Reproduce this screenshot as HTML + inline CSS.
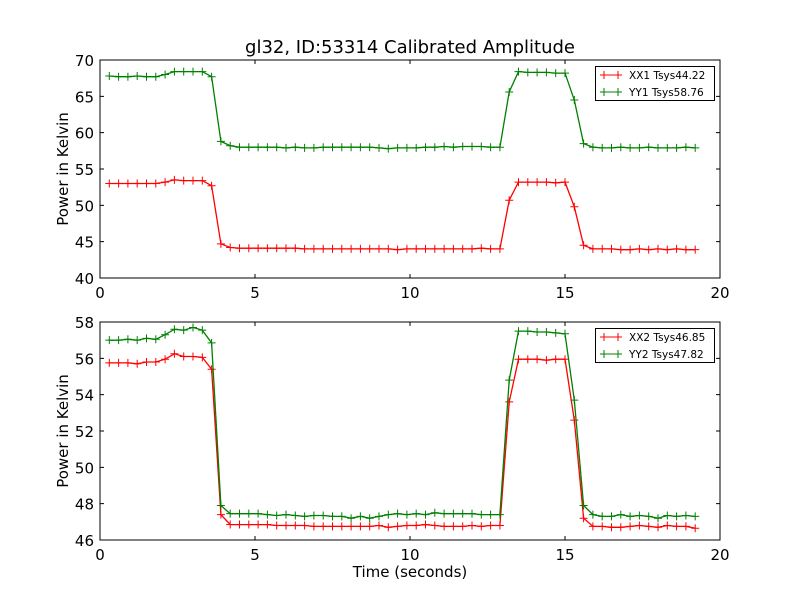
<!DOCTYPE html>
<html><head><meta charset="utf-8"><style>
body{margin:0;background:#fff;}
svg{display:block;font-family:"DejaVu Sans","Liberation Sans",sans-serif;}
</style></head><body>
<svg id="chart" width="800" height="600"></svg>
<script>
const times = Array.from({length:64},(_,i)=>+(0.3*(i+1)).toFixed(1));
const xx1 = [53,53,53,53,53,53,53.2,53.5,53.4,53.4,53.4,52.7,44.7,44.2,44.1,44.1,44.1,44.1,44.1,44.1,44.1,44.0,44.0,44.0,44.0,44.0,44.0,44.0,44.0,44.0,44.0,43.9,44.0,44.0,44.0,44.0,44.0,44.0,44.0,44.0,44.1,44.0,44.0,50.7,53.2,53.2,53.2,53.2,53.1,53.2,49.8,44.5,44.0,44.0,44.0,43.9,43.9,44.0,43.9,44.0,43.9,44.0,43.9,43.9];
const yy1 = [67.8,67.7,67.7,67.8,67.7,67.7,68.0,68.4,68.4,68.4,68.4,67.7,58.8,58.2,58.0,58.0,58.0,58.0,58.0,57.9,58.0,57.9,57.9,58.0,58.0,58.0,58.0,58.0,58.0,57.9,57.8,57.9,57.9,57.9,58.0,58.0,58.1,58.0,58.1,58.1,58.1,58.0,58.0,65.6,68.4,68.3,68.3,68.3,68.2,68.2,64.5,58.5,58.0,57.9,57.9,58.0,57.9,57.9,58.0,57.9,57.9,57.9,58.0,57.9];
const xx2 = [55.75,55.75,55.75,55.7,55.8,55.8,55.95,56.25,56.1,56.1,56.05,55.4,47.4,46.85,46.85,46.85,46.85,46.85,46.8,46.8,46.8,46.8,46.75,46.75,46.75,46.75,46.75,46.75,46.75,46.8,46.7,46.75,46.8,46.8,46.85,46.8,46.75,46.75,46.75,46.8,46.75,46.8,46.8,53.6,55.95,55.95,55.95,55.9,55.95,55.95,52.6,47.2,46.75,46.75,46.7,46.7,46.75,46.8,46.75,46.7,46.8,46.75,46.75,46.65];
const yy2 = [57.0,57.0,57.05,57.0,57.1,57.05,57.3,57.6,57.55,57.7,57.55,56.85,47.9,47.45,47.45,47.45,47.45,47.4,47.35,47.4,47.35,47.3,47.35,47.35,47.3,47.3,47.2,47.3,47.2,47.3,47.4,47.45,47.4,47.45,47.4,47.5,47.45,47.45,47.45,47.45,47.4,47.4,47.4,54.8,57.5,57.5,57.45,57.45,57.4,57.35,53.7,47.9,47.4,47.3,47.3,47.4,47.3,47.35,47.3,47.2,47.35,47.3,47.35,47.3];
const xTicks = [0,5,10,15,20];
const yTicksTop = [40,45,50,55,60,65,70];
const yTicksBot = [46,48,50,52,54,56,58];

const svg = document.getElementById('chart');
const NS = 'http://www.w3.org/2000/svg';
function mk(tag, attrs, parent){const e=document.createElementNS(NS,tag);for(const k in attrs)e.setAttribute(k,attrs[k]);(parent||svg).appendChild(e);return e;}

function panel(top, bottom, ymin, ymax, yTicks, series, legendNames, idx, showXLabel){
  const L=100,R=720;
  const X=v=>L+(v-0)/(20-0)*(R-L);
  const Y=v=>bottom-(v-ymin)/(ymax-ymin)*(bottom-top);
  const g=mk('g',{});
  
  
  series.forEach((s,si)=>{
    const pts=times.map((t,i)=>X(t).toFixed(1)+','+Y(s.vals[i]).toFixed(1)).join(' ');
    const pl=mk('polyline',{points:pts,fill:'none',stroke:s.color,'stroke-width':1.3},g);
    
    
    const mg=mk('g',{stroke:s.color,'stroke-width':1},g);
    
    
    times.forEach((t,i)=>{const x=X(t),y=Y(s.vals[i]);
      mk('path',{d:`M${x-4},${y}H${x+4}M${x},${y-4}V${y+4}`},mg);});
  });
  const frame=mk('rect',{x:L,y:top,width:R-L,height:bottom-top,fill:'none',stroke:'#000','stroke-width':1},g);
  
  
  xTicks.forEach(v=>{const x=X(v);
    mk('path',{d:`M${x},${bottom}v-4M${x},${top}v4`,stroke:'#000'},g);
    const t=mk('text',{x:x,y:bottom+20,'text-anchor':'middle','font-size':15},g);t.textContent=v;
    
    
  });
  yTicks.forEach(v=>{const y=Y(v);
    mk('path',{d:`M${L},${y}h4M${R},${y}h-4`,stroke:'#000'},g);
    const t=mk('text',{x:L-6,y:y+6,'text-anchor':'end','font-size':15},g);t.textContent=v;
    
    
  });
  const yl=mk('text',{x:0,y:0,'text-anchor':'middle','font-size':15,transform:`translate(68,${(top+bottom)/2}) rotate(-90)`},g);
  yl.textContent='Power in Kelvin';
  
  
  if(showXLabel){const xl=mk('text',{x:410,y:577,'text-anchor':'middle','font-size':15},g);xl.textContent='Time (seconds)';
    
    }
  const lg=mk('g',{},g);
  
  
  mk('rect',{x:595.5,y:top+6.5,width:119,height:34,fill:'#fff',stroke:'#000','stroke-width':1},lg);
  series.forEach((s,si)=>{const y=top+15+si*17;
    const e=mk('g',{},lg);
    
    
    mk('path',{d:`M600,${y}h22M604,${y-4}v8M618,${y-4}v8`,stroke:s.color},e);
    const t=mk('text',{x:629,y:y+4,'font-size':10.5},e);t.textContent=legendNames[si];
  });
}
const title=mk('text',{x:410,y:53,'text-anchor':'middle','font-size':18});
title.textContent='gl32, ID:53314 Calibrated Amplitude';


panel(60,278,40,70,yTicksTop,[{name:'xx1',vals:xx1,color:'#ff0000'},{name:'yy1',vals:yy1,color:'#008000'}],['XX1 Tsys44.22','YY1 Tsys58.76'],1,false);
panel(322,540,46,58,yTicksBot,[{name:'xx2',vals:xx2,color:'#ff0000'},{name:'yy2',vals:yy2,color:'#008000'}],['XX2 Tsys46.85','YY2 Tsys47.82'],2,true);
</script>
</body></html>
